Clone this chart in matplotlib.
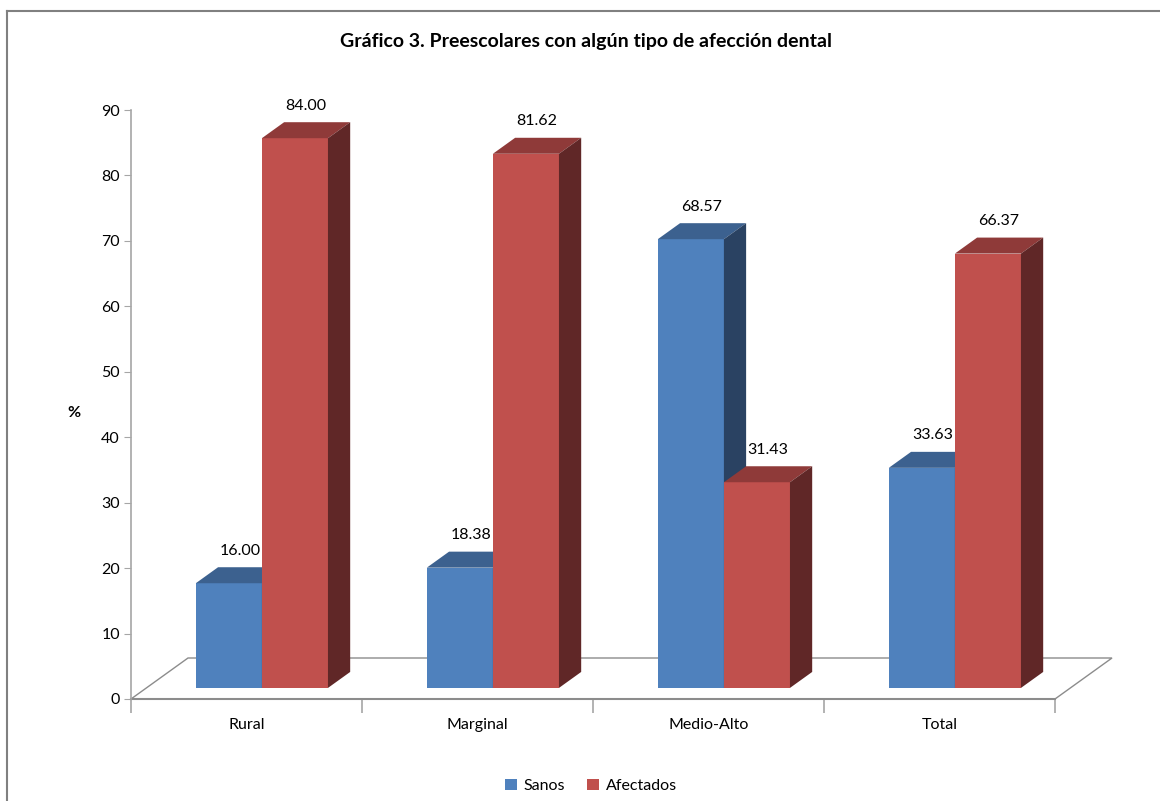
import matplotlib.pyplot as plt
from matplotlib.patches import Polygon, Rectangle
from matplotlib.lines import Line2D

plt.rcParams['font.family'] = ['Lato', 'DejaVu Sans']

# data
categorias = ['Rural', 'Marginal', 'Medio-Alto', 'Total']
sanos = [16.00, 18.38, 68.57, 33.63]
afectados = [84.00, 81.62, 31.43, 66.37]
series = ['Sanos', 'Afectados']

# face colours: front, top, side
colores = {
    'Sanos': ('#4F81BD', '#3C618F', '#2A4262'),
    'Afectados': ('#C0504D', '#8F3A39', '#602727'),
}

fig = plt.figure(figsize=(11.6, 8.01), dpi=100)
ax = fig.add_axes([131 / 1160, 102 / 801, 924 / 1160, 589 / 801])
ax.set_xlim(0, 4)
ax.set_ylim(0, 90)

# oblique depth of the floor, in data units
ddx = 57 / 231
ddy = 41 / (589 / 90)
f0, f1 = 0.27, 0.66
w = 0.286

gris = '#A6A6A6'

# floor outline
floor = Polygon([(0, 0), (4, 0), (4 + ddx, ddy), (ddx, ddy)], closed=True,
                facecolor='white', edgecolor='#8C8C8C', lw=1.0, clip_on=False, zorder=1)
ax.add_patch(floor)


def barra(x0, v, cols):
    x1 = x0 + w
    fr, tp, sd = cols
    ax.add_patch(Rectangle((x0 + f0 * ddx, f0 * ddy), w, v, facecolor=fr,
                           edgecolor='none', clip_on=False, zorder=3))
    ax.add_patch(Polygon([(x0 + f0 * ddx, v + f0 * ddy), (x1 + f0 * ddx, v + f0 * ddy),
                          (x1 + f1 * ddx, v + f1 * ddy), (x0 + f1 * ddx, v + f1 * ddy)],
                         closed=True, facecolor=tp, edgecolor='none', clip_on=False, zorder=3))
    ax.add_patch(Polygon([(x1 + f0 * ddx, f0 * ddy), (x1 + f1 * ddx, f1 * ddy),
                          (x1 + f1 * ddx, v + f1 * ddy), (x1 + f0 * ddx, v + f0 * ddy)],
                         closed=True, facecolor=sd, edgecolor='none', clip_on=False, zorder=3))
    fm = (f0 + f1) / 2
    ax.annotate(f'{v:.2f}', (x0 + w / 2 + fm * ddx, v + f1 * ddy), xytext=(0, 12),
                textcoords='offset points', ha='center', va='center', fontsize=11.5,
                zorder=5)


for i in range(len(categorias)):
    barra(i + 0.5 - w, sanos[i], colores['Sanos'])
    barra(i + 0.5, afectados[i], colores['Afectados'])

# axes styling
for s in ['top', 'right']:
    ax.spines[s].set_visible(False)
ax.spines['left'].set_color(gris)
ax.spines['bottom'].set_color('#8C8C8C')
ax.spines['left'].set_linewidth(1.2)
ax.spines['bottom'].set_linewidth(1.5)
ax.spines['left'].set_zorder(4)
ax.set_yticks(range(0, 91, 10))
ax.tick_params(axis='y', length=5, color=gris, labelsize=11.5, pad=3)
ax.set_xticks(range(0, 5))
ax.set_xticklabels([])
ax.tick_params(axis='x', length=10, color=gris, width=1.2)
for i, c in enumerate(categorias):
    ax.text(i + 0.5, -4.0, c, ha='center', va='center', fontsize=11.5)

fig.text(74 / 1160, 1 - 413 / 801, '%', ha='center', va='center', fontsize=11.5,
         fontweight='bold')
fig.text(586 / 1160, 1 - 42 / 801, 'Gráfico 3. Preescolares con algún tipo de afección dental',
         ha='center', va='center', fontsize=14, fontweight='bold')

# legend
handles = [Rectangle((0, 0), 1, 1, facecolor=colores[s][0]) for s in series]
fig.legend(handles, series, loc='center', bbox_to_anchor=(591 / 1160, 1 - 786 / 801),
           ncol=2, frameon=False, fontsize=11.5, handlelength=0.75, handleheight=0.75,
           handletextpad=0.4, columnspacing=1.4)

# outer chart border
fig.add_artist(Line2D([7 / 1160, 7 / 1160], [0, 1 - 11 / 801], transform=fig.transFigure,
                      color='#808080', lw=1.5))
fig.add_artist(Line2D([7 / 1160, 1], [1 - 11 / 801, 1 - 11 / 801], transform=fig.transFigure,
                      color='#808080', lw=1.5))

fig.savefig('out.png', dpi=100)
